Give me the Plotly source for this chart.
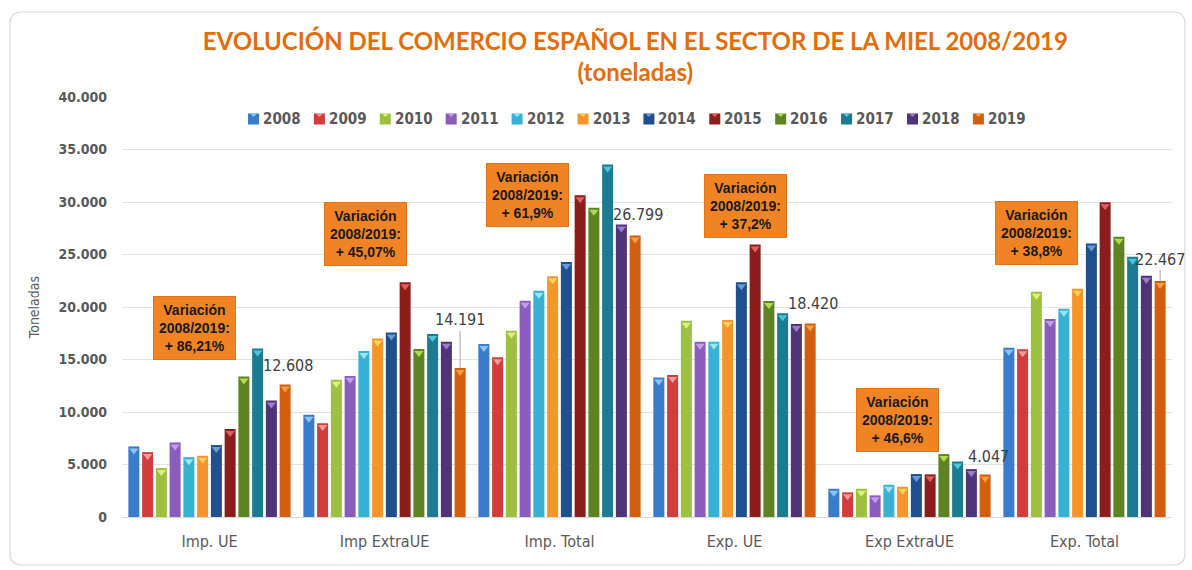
import plotly.graph_objects as go

categories = ["Imp. UE", "Imp ExtraUE", "Imp. Total", "Exp. UE", "Exp ExtraUE", "Exp. Total"]
years = ["2008", "2009", "2010", "2011", "2012", "2013", "2014", "2015", "2016", "2017", "2018", "2019"]

# values per category, one per year 2008..2019 (toneladas)
imp_ue      = [6720, 6180, 4660, 7100, 5700, 5830, 6850, 8370, 13380, 16040, 11090, 12608]
imp_extraue = [9730, 8940, 13060, 13440, 15820, 16990, 17560, 22350, 16010, 17430, 16700, 14191]
imp_total   = [16480, 15210, 17750, 20600, 21550, 22920, 24280, 30650, 29450, 33570, 27860, 26799]
exp_ue      = [13280, 13530, 18700, 16700, 16700, 18760, 22350, 25960, 20570, 19400, 18380, 18420]
exp_extraue = [2690, 2350, 2690, 2060, 3070, 2880, 4090, 4060, 5990, 5290, 4560, 4047]
exp_total   = [16130, 15970, 21460, 18860, 19840, 21740, 26050, 29980, 26690, 24790, 22980, 22467]

variation_labels = ["+ 86,21%", "+ 45,07%", "+ 61,9%", "+ 37,2%", "+ 46,6%", "+ 38,8%"]

bar_colors = ["#3A7CCB", "#D23C3C", "#9DC040", "#8A5CBC", "#38B2D4", "#F5952A",
              "#1F4F8C", "#8C1D1D", "#5E8323", "#1B7B90", "#4F3578", "#D35E10"]
tip_colors = ["#8CC4F5", "#F59A9A", "#DDF080", "#C0A0EA", "#9AE6F5", "#FFD45A",
              "#6A9AD8", "#E06060", "#B0DC50", "#50C4DC", "#9C7CCC", "#F5A040"]

series = [imp_ue, imp_extraue, imp_total, exp_ue, exp_extraue, exp_total]

BARGAP = 0.057
GROUPGAP = 0.2
NARROW = "Liberation Sans Narrow, DejaVu Sans Condensed, Roboto, sans-serif"

# pixel -> paper helpers (plot area: x 122..1172, y 97..517)
def px_x(p):
    return (p - 122) / 1050

def px_y(p):
    return (517 - p) / 420

fig = go.Figure()
for i, yr in enumerate(years):
    vals = [s[i] for s in series]
    fig.add_trace(go.Bar(
        name=yr, x=categories, y=vals, showlegend=False,
        marker=dict(color=bar_colors[i], line=dict(width=0)),
        hoverinfo="skip",
    ))
for i, yr in enumerate(years):
    vals = [s[i] for s in series]
    fig.add_trace(go.Scatter(
        x=categories, y=vals, mode="markers", yaxis="y2", showlegend=False,
        marker=dict(symbol="triangle-down", size=8, color=tip_colors[i],
                    line=dict(width=0)),
        hoverinfo="skip",
    ))

fig.update_layout(
    width=1192, height=570,
    barmode="group", bargap=BARGAP, bargroupgap=GROUPGAP,
    scattermode="group", scattergap=BARGAP,
    separators=",.",
    paper_bgcolor="white", plot_bgcolor="white",
    margin=dict(l=122, r=20, t=97, b=53),
    showlegend=False,
    xaxis=dict(range=[-0.5, 5.5], showgrid=False, showline=True, linecolor="#D9D9D9",
               linewidth=1,
               tickfont=dict(family=NARROW, size=16, color="#595959"),
               ticks="", ticklabelstandoff=10),
    yaxis=dict(range=[0, 40000], dtick=5000, tickformat=",.0f", showgrid=True,
               gridcolor="#E3E3E3", gridwidth=1.3, zeroline=False, showline=False,
               tickfont=dict(family=NARROW, size=14, color="#595959", weight="bold"),
               ticklabelstandoff=14,
               title=dict(text="Toneladas", font=dict(family=NARROW, size=14, color="#595959"),
                          standoff=15)),
    yaxis2=dict(range=[380, 40380], overlaying="y", visible=False),
    title=dict(text="EVOLUCIÓN DEL COMERCIO ESPAÑOL EN EL SECTOR DE LA MIEL 2008/2019<br>(toneladas)",
               x=0.533, xanchor="center", y=0.912, yanchor="middle",
               font=dict(family="Lato, Open Sans, sans-serif", size=24, color="#E46C0A", weight="bold")),
)

# rounded frame around the chart area
r = 12
x0, x1, y0, y1 = 10, 1185, 12, 565
fig.add_shape(type="path", xref="paper", yref="paper",
              path=("M {a},{b} L {c},{b} Q {d},{b} {d},{e} L {d},{f} Q {d},{g} {c},{g} "
                    "L {a},{g} Q {h},{g} {h},{f} L {h},{e} Q {h},{b} {a},{b} Z").format(
                  a=px_x(x0 + r), c=px_x(x1 - r), d=px_x(x1), h=px_x(x0),
                  b=px_y(y0), e=px_y(y0 + r), f=px_y(y1 - r), g=px_y(y1)),
              line=dict(color="#D9D9D9", width=1.2), fillcolor="rgba(0,0,0,0)", layer="below")

# legend (square swatch + year label)
LEG_X0, LEG_STEP, LEG_Y, SQ = 248, 65.9, 119, 11
for i, yr in enumerate(years):
    lx = LEG_X0 + LEG_STEP * i
    fig.add_shape(type="rect", xref="paper", yref="paper",
                  x0=px_x(lx), x1=px_x(lx + SQ), y0=px_y(LEG_Y + SQ / 2), y1=px_y(LEG_Y - SQ / 2),
                  fillcolor=bar_colors[i], line=dict(width=0))
    fig.add_shape(type="path", xref="paper", yref="paper",
                  path="M {a},{t} L {b},{t} L {c},{m} Z".format(
                      a=px_x(lx + 2), b=px_x(lx + SQ - 2), c=px_x(lx + SQ / 2),
                      t=px_y(LEG_Y - SQ / 2), m=px_y(LEG_Y - SQ / 2 + 3.5)),
                  fillcolor=tip_colors[i], line=dict(width=0))
    fig.add_annotation(xref="paper", yref="paper", x=px_x(lx + SQ + 2), y=px_y(LEG_Y),
                       xanchor="left", yanchor="middle", showarrow=False, text=yr,
                       font=dict(family=NARROW, size=15, color="#595959", weight="bold"))

# variation boxes (pixel centers converted to paper coords)
box_pos = [(194, 328), (365, 234), (527, 195), (745, 206), (897, 420), (1036, 233)]
for (px, py), lab in zip(box_pos, variation_labels):
    fig.add_annotation(
        xref="paper", yref="paper", x=px_x(px), y=px_y(py),
        xanchor="center", yanchor="middle",
        text="Variación<br>2008/2019:<br>" + lab, showarrow=False,
        font=dict(family="Liberation Sans, Arial, sans-serif", size=14, color="#1A1A1A",
                  weight="bold"),
        bgcolor="#F08424", bordercolor="#E07418", borderwidth=1, borderpad=5,
        align="center",
    )

# 2019 value labels
slot_shift = (11.5 / 12 - 0.5) * (1 - BARGAP) * 175
label_cfg = [(False, 19), (True, -48), (False, 21), (False, 20), (False, 18), (True, -22)]
for cat, s, (arrow, off) in zip(categories, series, label_cfg):
    v = s[-1]
    txt = f"{v:,}".replace(",", ".")
    if arrow:
        fig.add_annotation(x=cat, y=v, xshift=slot_shift, text=txt, showarrow=True,
                           arrowhead=0, arrowwidth=1, arrowcolor="#A6A6A6", ax=0, ay=off,
                           font=dict(family=NARROW, size=16, color="#404040"))
    else:
        fig.add_annotation(x=cat, y=v, xshift=slot_shift + 3, yshift=off, text=txt,
                           showarrow=False, yanchor="middle",
                           font=dict(family=NARROW, size=16, color="#404040"))

fig.write_html("out.html", config={"displayModeBar": False},
               post_script="document.body.style.margin='0';document.body.style.overflow='hidden';")
